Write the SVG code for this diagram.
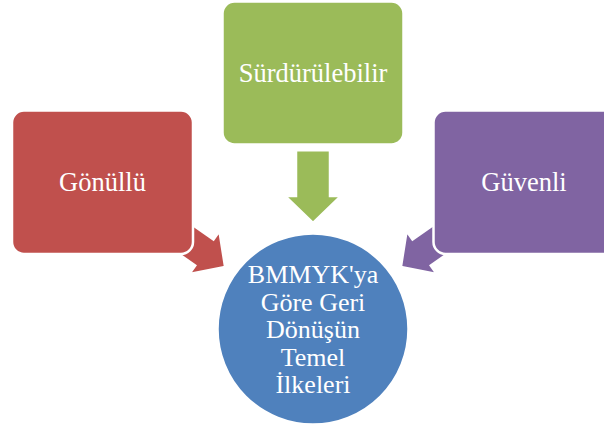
<svg xmlns="http://www.w3.org/2000/svg" width="604" height="430" viewBox="0 0 604 430">
  <style>
    .shape { stroke: #FFFFFF; stroke-width: 2.5; }
    .label { font-family: "Liberation Serif", "Times New Roman", serif; fill: #FFFFFF; text-anchor: middle; }
    .box-label { font-size: 26.5px; }
    .circle-label { font-size: 26px; }
  </style>
  <defs>
    <path id="arrow" d="M -17,-72.7 L 17,-72.7 L 17,-27 L 28,-27 L 0,0 L -28,-27 L -17,-27 Z"/>
  </defs>
  <rect width="604" height="430" fill="#FFFFFF"/>
  <g id="connectors">
    <use href="#arrow" class="shape" fill="#9BBB59" transform="translate(313,223)"/>
    <use href="#arrow" class="shape" fill="#C0504D" transform="translate(225,267) rotate(-55) scale(0.93)"/>
    <use href="#arrow" class="shape" fill="#8064A2" transform="translate(401,267) rotate(55) scale(0.93)"/>
  </g>
  <g id="node-surdurulebilir">
    <rect class="shape" x="222.5" y="1.5" width="181" height="143" rx="12" fill="#9BBB59"/>
    <text class="label box-label" x="313" y="82">Sürdürülebilir</text>
  </g>
  <g id="node-gonullu">
    <rect class="shape" x="12" y="110.5" width="181" height="143.5" rx="12" fill="#C0504D"/>
    <text class="label box-label" x="102.5" y="190.5">Gönüllü</text>
  </g>
  <g id="node-guvenli">
    <rect class="shape" x="433.5" y="110.5" width="181" height="143.5" rx="12" fill="#8064A2"/>
    <text class="label box-label" x="524" y="190.5">Güvenli</text>
  </g>
  <g id="node-center">
    <circle class="shape" cx="313" cy="329" r="95.5" fill="#4F81BD"/>
    <text class="label circle-label" x="313" y="283.3">BMMYK'ya</text>
    <text class="label circle-label" x="313" y="310.8">Göre Geri</text>
    <text class="label circle-label" x="313" y="338.3">Dönüşün</text>
    <text class="label circle-label" x="313" y="365.8">Temel</text>
    <text class="label circle-label" x="313" y="393.3">İlkeleri</text>
  </g>
</svg>
